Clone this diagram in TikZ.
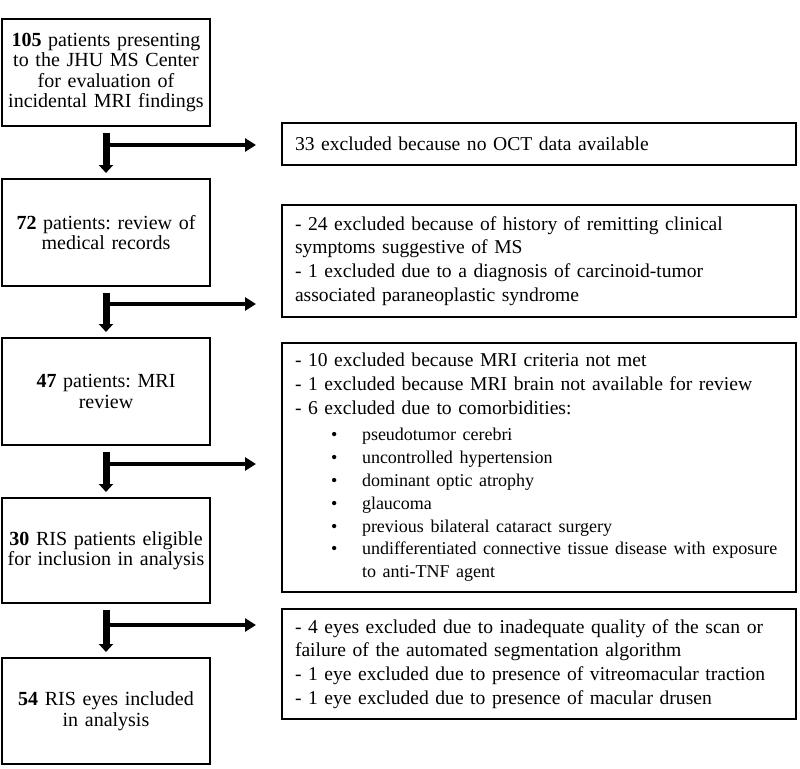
\documentclass[tikz,border=0pt]{standalone}
\usepackage{fontspec}
\setmainfont{Liberation Serif}
\usetikzlibrary{arrows.meta}
\frenchspacing
\newcommand{\bul}[1]{\hspace*{36pt}\makebox[31pt][l]{\textbullet}#1}
\newcommand{\bulc}[1]{\hspace*{67pt}#1}
\begin{document}
\begin{tikzpicture}[x=1pt,y=-1pt,
  lbox/.style={draw,line width=2pt,minimum width=208pt,text width=200pt,align=center,inner sep=0pt,
    font=\fontsize{20}{20.5}\selectfont},
  rbox/.style={draw,line width=2pt,minimum width=514pt,text width=488pt,align=left,inner xsep=13pt,inner ysep=0pt,
    font=\fontsize{19.6}{23.6}\selectfont},
  varr/.style={line width=7pt,-{Triangle[length=8pt,width=14pt]},shorten <=6pt,shorten >=5pt},
  harr/.style={line width=3.5pt,-{Triangle[length=11pt,width=13pt]}}]
\useasboundingbox (0,0) rectangle (800,768);
% left column
\node[lbox,minimum height=107pt] (b1) at (106,72.5) {\textbf{105} patients presenting\\to the JHU MS Center\\for evaluation of\\incidental MRI findings};
\node[lbox,minimum height=107pt] (b2) at (106,232.5) {\textbf{72} patients: review of\\medical records};
\node[lbox,minimum height=107pt] (b3) at (106,391.5) {\textbf{47} patients: MRI\\review};
\node[lbox,minimum height=105pt] (b4) at (106,550.5) {\textbf{30} RIS patients eligible\\for inclusion in analysis};
\node[lbox,minimum height=106pt] (b5) at (106,711) {\textbf{54} RIS eyes included\\in analysis};
% right column
\node[rbox,minimum height=42pt] (r1) at (539,144) {33 excluded because no OCT data available};
\node[rbox,minimum height=112pt] (r2) at (539,261) {\mbox{- 24 excluded because of history of remitting clinical}\\symptoms suggestive of MS\\\mbox{- 1 excluded due to a diagnosis of carcinoid-tumor}\\associated paraneoplastic syndrome};
\node[rbox,minimum height=249pt] (r3) at (539,467.5) {- 10 excluded because MRI criteria not met\\\mbox{- 1 excluded because MRI brain not available for review}\\- 6 excluded due to comorbidities:\par\vspace{4pt}%
{\fontsize{18}{22.8}\selectfont
\bul{pseudotumor cerebri}\\
\bul{uncontrolled hypertension}\\
\bul{dominant optic atrophy}\\
\bul{glaucoma}\\
\bul{previous bilateral cataract surgery}\\
\mbox{\bul{undifferentiated connective tissue disease with exposure}}\\
\bulc{to anti-TNF agent}\par}};
\node[rbox,minimum height=110pt] (r4) at (539,664) {\mbox{- 4 eyes excluded due to inadequate quality of the scan or}\\failure of the automated segmentation algorithm\\\mbox{- 1 eye excluded due to presence of vitreomacular traction}\\- 1 eye excluded due to presence of macular drusen};
% vertical arrows
\draw[varr] (b1.south) -- (b2.north);
\draw[varr] (b2.south) -- (b3.north);
\draw[varr] (b3.south) -- (b4.north);
\draw[varr] (b4.south) -- (b5.north);
% horizontal branches
\coordinate (h1) at (105,145); \coordinate (e1) at (256,145);
\coordinate (h2) at (105,304); \coordinate (e2) at (256,304);
\coordinate (h3) at (105,464); \coordinate (e3) at (256,464);
\coordinate (h4) at (105,625); \coordinate (e4) at (256,625);
\draw[harr] (h1) -- (e1);
\draw[harr] (h2) -- (e2);
\draw[harr] (h3) -- (e3);
\draw[harr] (h4) -- (e4);
\end{tikzpicture}
\end{document}
